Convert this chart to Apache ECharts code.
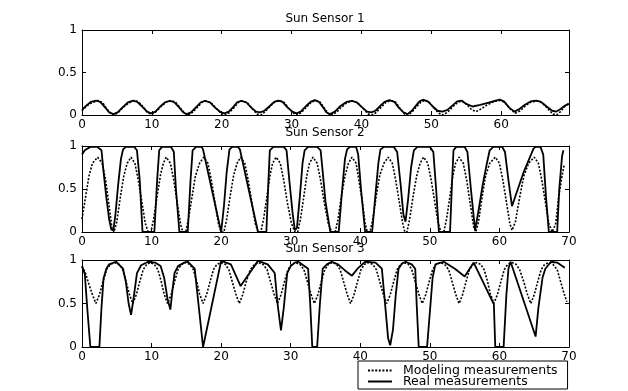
<!DOCTYPE html>
<html>
<head>
<meta charset="utf-8">
<script src="https://cdn.jsdelivr.net/npm/echarts@6/dist/echarts.min.js"></script>
<style>html,body{margin:0;padding:0;background:#fff;}#c{width:628px;height:391px;}</style>
</head>
<body>
<div id="c"></div>
<script>
// ---- data ----
const titles = ['Sun Sensor 1', 'Sun Sensor 2', 'Sun Sensor 3'];
const seriesNames = ['Modeling measurements', 'Real measurements'];
const yTicks = [0, 0.5, 1];
const xMax = [69.7, 70, 70];

const s1Model = [[0,0.05],[0.6,0.1],[1.3,0.14],[2.3,0.17],[2.9,0.15],[3.5,0.08],[4.1,0.02],[4.6,0],[5.2,0.03],[5.9,0.09],[6.7,0.14],[7.5,0.17],[8.1,0.155],[8.8,0.09],[9.5,0.02],[10.0,0.01],[10.6,0.04],[11.3,0.1],[12.1,0.155],[12.8,0.17],[13.4,0.15],[14.1,0.08],[14.7,0.02],[15.2,0],[15.8,0.03],[16.5,0.09],[17.2,0.15],[17.8,0.165],[18.5,0.14],[19.2,0.08],[19.9,0.02],[20.5,0],[21.1,0.03],[21.8,0.09],[22.4,0.15],[23.0,0.165],[23.7,0.14],[24.4,0.07],[25.1,0.01],[25.6,0],[26.2,0.04],[26.9,0.1],[27.6,0.155],[28.3,0.17],[28.9,0.15],[29.6,0.08],[30.3,0.02],[30.8,0],[31.4,0.03],[32.1,0.09],[32.8,0.15],[33.5,0.17],[34.1,0.15],[34.7,0.08],[35.2,0.02],[35.7,0],[36.4,0.03],[37.1,0.09],[38.0,0.15],[38.8,0.165],[39.5,0.14],[40.3,0.07],[41.0,0.01],[41.5,0],[42.1,0.03],[42.8,0.09],[43.5,0.15],[44.2,0.17],[44.9,0.15],[45.5,0.08],[46.2,0.01],[46.7,0],[47.3,0.04],[47.9,0.1],[48.5,0.15],[49.0,0.17],[49.7,0.15],[50.4,0.08],[51.1,0.02],[51.7,0],[52.4,0.04],[53.1,0.1],[53.8,0.15],[54.4,0.165],[55.1,0.12],[55.8,0.06],[56.4,0.04],[57.1,0.07],[58.0,0.12],[59.0,0.16],[59.9,0.17],[60.5,0.15],[61.3,0.07],[62.0,0.02],[62.7,0.05],[63.5,0.11],[64.3,0.155],[65.2,0.165],[65.9,0.14],[66.7,0.07],[67.4,0.01],[67.9,0],[68.5,0.04],[69.1,0.1],[69.7,0.14]];

const s1Real = [[0,0.06],[0.6,0.11],[1.3,0.155],[2.0,0.17],[2.6,0.155],[3.3,0.09],[3.9,0.03],[4.5,0.01],[5.1,0.03],[5.8,0.09],[6.6,0.15],[7.3,0.17],[7.9,0.155],[8.6,0.1],[9.3,0.04],[9.9,0.02],[10.5,0.04],[11.2,0.1],[11.9,0.15],[12.6,0.165],[13.2,0.15],[13.9,0.09],[14.5,0.03],[15.0,0.01],[15.6,0.03],[16.3,0.09],[17.0,0.15],[17.6,0.165],[18.3,0.15],[19.0,0.09],[19.8,0.035],[20.4,0.02],[21.0,0.04],[21.6,0.09],[22.2,0.15],[22.8,0.165],[23.5,0.15],[24.2,0.09],[24.9,0.04],[25.5,0.03],[26.1,0.05],[26.8,0.1],[27.5,0.155],[28.1,0.17],[28.7,0.155],[29.4,0.09],[30.1,0.04],[30.7,0.02],[31.3,0.04],[32.0,0.1],[32.7,0.155],[33.3,0.175],[33.9,0.155],[34.5,0.09],[35.0,0.03],[35.5,0.01],[36.2,0.04],[36.9,0.1],[37.9,0.155],[38.6,0.165],[39.3,0.15],[40.1,0.09],[40.8,0.04],[41.4,0.03],[42.0,0.05],[42.6,0.1],[43.3,0.155],[44.0,0.175],[44.7,0.155],[45.3,0.09],[46.0,0.03],[46.6,0.01],[47.2,0.05],[47.8,0.11],[48.3,0.16],[48.8,0.18],[49.5,0.16],[50.2,0.1],[50.9,0.05],[51.6,0.04],[52.3,0.06],[53.0,0.11],[53.7,0.16],[54.3,0.17],[55.0,0.13],[55.9,0.1],[57.0,0.12],[58.2,0.145],[59.2,0.17],[59.8,0.18],[60.4,0.16],[61.1,0.09],[61.9,0.04],[62.6,0.07],[63.4,0.12],[64.2,0.16],[65.0,0.17],[65.7,0.155],[66.5,0.1],[67.3,0.05],[67.9,0.04],[68.5,0.07],[69.1,0.11],[69.7,0.13]];

const s2Model = [[0,0.15],[0.5,0.4],[1.0,0.65],[1.5,0.8],[2.25,0.87],[2.9,0.8],[3.4,0.6],[3.9,0.3],[4.3,0.05],[4.6,0],[5.0,0.12],[5.5,0.4],[6.0,0.65],[6.5,0.8],[7.05,0.87],[7.6,0.8],[8.1,0.6],[8.6,0.35],[9.1,0.1],[9.5,0],[9.9,0],[10.3,0.15],[10.8,0.42],[11.3,0.67],[11.7,0.8],[12.1,0.87],[12.7,0.8],[13.2,0.6],[13.7,0.33],[14.2,0.08],[14.5,0],[14.9,0],[15.3,0.15],[15.8,0.4],[16.3,0.65],[16.9,0.8],[17.5,0.87],[18.1,0.8],[18.6,0.6],[19.1,0.35],[19.6,0.1],[20.0,0],[20.4,0],[20.8,0.15],[21.3,0.42],[21.8,0.66],[22.3,0.8],[22.8,0.87],[23.4,0.8],[23.9,0.6],[24.4,0.35],[24.9,0.1],[25.3,0],[25.7,0],[26.1,0.15],[26.6,0.42],[27.0,0.65],[27.4,0.8],[27.9,0.87],[28.5,0.8],[29.0,0.6],[29.5,0.35],[30.1,0.1],[30.6,0],[31.0,0],[31.4,0.15],[31.9,0.42],[32.3,0.65],[32.7,0.8],[33.2,0.87],[33.8,0.8],[34.3,0.6],[34.8,0.35],[35.4,0.1],[35.9,0],[36.4,0],[36.8,0.15],[37.3,0.42],[37.8,0.65],[38.3,0.8],[38.8,0.87],[39.4,0.8],[39.8,0.6],[40.3,0.35],[40.7,0.1],[41.0,0],[41.4,0],[41.8,0.15],[42.3,0.42],[42.8,0.66],[43.4,0.8],[44.0,0.87],[44.6,0.8],[45.1,0.6],[45.6,0.35],[46.1,0.1],[46.4,0],[46.7,0],[47.1,0.15],[47.6,0.42],[48.1,0.65],[48.6,0.8],[49.1,0.87],[49.7,0.8],[50.2,0.6],[50.7,0.35],[51.2,0.1],[51.6,0],[52.0,0],[52.4,0.15],[52.9,0.42],[53.3,0.65],[53.7,0.8],[54.2,0.87],[54.8,0.8],[55.3,0.6],[55.8,0.33],[56.3,0.06],[56.6,0],[57.0,0.12],[57.5,0.4],[58.0,0.65],[58.6,0.8],[59.4,0.87],[60.0,0.8],[60.5,0.6],[61.0,0.35],[61.5,0.1],[61.8,0.02],[62.3,0.12],[62.9,0.4],[63.5,0.65],[64.2,0.8],[65.0,0.87],[65.6,0.8],[66.1,0.6],[66.6,0.35],[67.1,0.1],[67.6,0],[68.1,0.1],[68.5,0.4],[69.0,0.65],[69.3,0.78]];

const s2Real = [[0,0.9],[0.4,0.95],[1.2,0.99],[2.2,0.99],[2.8,0.95],[3.1,0.7],[3.5,0.4],[3.9,0.15],[4.2,0.03],[4.5,0.02],[4.8,0.2],[5.2,0.55],[5.6,0.85],[5.9,0.96],[6.3,0.99],[7.5,0.99],[7.9,0.95],[8.3,0.6],[8.7,0],[10.4,0],[10.8,0.6],[11.1,0.95],[11.5,0.99],[12.8,0.99],[13.2,0.93],[13.5,0.5],[14.0,0],[15.2,0],[15.6,0.6],[15.9,0.95],[16.4,0.99],[17.2,0.99],[17.4,0.96],[20.0,0],[20.4,0.3],[20.8,0.7],[21.2,0.96],[21.6,0.99],[22.4,0.99],[22.7,0.96],[25.3,0],[26.5,0],[26.8,0.6],[27.0,0.95],[27.5,0.99],[29.0,0.99],[29.4,0.95],[29.8,0.6],[30.3,0.2],[30.6,0.02],[30.9,0.05],[31.3,0.4],[31.7,0.8],[32.0,0.95],[32.5,0.99],[33.8,0.99],[34.3,0.95],[34.6,0.7],[35.0,0.35],[35.7,0],[36.9,0],[37.4,0.5],[37.8,0.85],[38.1,0.96],[38.5,0.99],[39.4,0.99],[39.7,0.9],[40.1,0.5],[40.7,0],[41.7,0],[42.2,0.45],[42.6,0.8],[42.9,0.96],[43.4,0.99],[44.8,0.99],[45.3,0.93],[45.8,0.55],[46.2,0.2],[46.5,0.12],[46.9,0.4],[47.3,0.75],[47.7,0.95],[48.2,0.99],[50.0,0.99],[50.5,0.93],[50.9,0.5],[51.3,0],[52.9,0],[53.2,0.6],[53.4,0.95],[53.8,0.99],[55.0,0.99],[55.4,0.93],[55.9,0.5],[56.5,0.02],[57.0,0.25],[57.6,0.55],[58.2,0.8],[58.6,0.95],[59.1,0.99],[60.4,0.99],[60.8,0.93],[61.3,0.6],[61.8,0.3],[63.5,0.7],[64.9,0.97],[65.2,0.99],[65.9,0.99],[66.3,0.9],[66.7,0.4],[67.1,0],[68.3,0],[68.6,0.5],[69.0,0.88],[69.2,0.95]];

const s3Model = [[0,0.93],[0.5,0.85],[1.0,0.72],[1.5,0.6],[2.0,0.5],[2.5,0.6],[3.0,0.75],[3.6,0.9],[4.1,0.95],[4.7,0.97],[5.3,0.95],[5.8,0.9],[6.3,0.76],[6.8,0.61],[7.3,0.5],[7.8,0.6],[8.3,0.75],[8.8,0.89],[9.3,0.95],[9.8,0.97],[10.4,0.95],[10.9,0.89],[11.4,0.75],[11.8,0.61],[12.3,0.5],[12.8,0.6],[13.3,0.75],[13.8,0.89],[14.3,0.95],[14.9,0.97],[15.5,0.95],[16.0,0.89],[16.5,0.75],[16.9,0.61],[17.4,0.5],[17.9,0.6],[18.4,0.75],[18.9,0.89],[19.4,0.95],[20.0,0.97],[20.6,0.95],[21.1,0.89],[21.6,0.75],[22.1,0.61],[22.6,0.5],[23.1,0.6],[23.6,0.75],[24.2,0.89],[24.8,0.95],[25.4,0.97],[26.0,0.95],[26.6,0.89],[27.1,0.75],[27.6,0.61],[28.1,0.5],[28.6,0.6],[29.1,0.75],[29.6,0.89],[30.1,0.95],[30.7,0.97],[31.3,0.95],[31.9,0.89],[32.4,0.75],[32.9,0.61],[33.4,0.5],[33.9,0.6],[34.4,0.75],[34.9,0.89],[35.4,0.95],[36.0,0.97],[36.6,0.95],[37.1,0.89],[37.6,0.75],[38.1,0.61],[38.6,0.5],[39.1,0.6],[39.6,0.75],[40.1,0.89],[40.6,0.95],[41.2,0.97],[41.8,0.95],[42.3,0.89],[42.8,0.75],[43.3,0.61],[43.8,0.5],[44.3,0.6],[44.8,0.75],[45.3,0.89],[45.8,0.95],[46.3,0.97],[46.9,0.95],[47.4,0.89],[47.9,0.75],[48.4,0.61],[48.9,0.5],[49.4,0.6],[49.9,0.75],[50.4,0.89],[50.9,0.95],[51.5,0.97],[52.1,0.95],[52.7,0.89],[53.2,0.75],[53.7,0.61],[54.2,0.5],[54.7,0.6],[55.2,0.75],[55.7,0.89],[56.2,0.95],[56.7,0.97],[57.3,0.95],[57.8,0.89],[58.3,0.75],[58.7,0.61],[59.2,0.5],[59.7,0.6],[60.2,0.75],[60.7,0.89],[61.2,0.95],[61.8,0.97],[62.4,0.95],[62.9,0.89],[63.5,0.75],[64.0,0.61],[64.5,0.5],[65.0,0.6],[65.5,0.75],[66.0,0.89],[66.5,0.95],[67.1,0.97],[67.7,0.95],[68.3,0.89],[68.8,0.75],[69.3,0.61],[69.7,0.52]];

const s3Real = [[0,0.93],[0.4,0.84],[0.8,0.4],[1.2,0],[2.5,0],[2.8,0.45],[3.1,0.79],[3.5,0.9],[3.9,0.95],[4.9,0.98],[5.9,0.9],[6.3,0.75],[6.7,0.5],[7.05,0.37],[7.4,0.55],[7.9,0.85],[8.5,0.94],[9.5,0.98],[10.5,0.97],[11.3,0.93],[11.8,0.8],[12.3,0.55],[12.7,0.43],[13.0,0.65],[13.3,0.85],[13.8,0.93],[14.7,0.97],[15.2,0.98],[16.2,0.9],[17.4,0],[20.0,0.99],[21.4,0.95],[22.8,0.7],[25.3,0.99],[26.7,0.95],[27.7,0.85],[28.1,0.5],[28.6,0.19],[29.0,0.45],[29.5,0.85],[30.0,0.93],[30.6,0.97],[31.1,0.98],[32.5,0.9],[32.8,0.5],[33.1,0],[33.8,0],[34.2,0.5],[34.6,0.9],[35.2,0.95],[35.9,0.98],[36.8,0.95],[37.8,0.88],[38.8,0.82],[39.6,0.9],[40.7,0.98],[42.2,0.97],[43.1,0.9],[43.5,0.55],[44.0,0.1],[44.3,0.02],[44.7,0.2],[45.1,0.6],[45.5,0.9],[46.0,0.96],[46.5,0.98],[47.4,0.95],[47.9,0.9],[48.1,0.5],[48.4,0],[49.6,0],[50.1,0.5],[50.4,0.8],[50.8,0.95],[52.0,0.98],[53.6,0.9],[55.0,0.81],[56.3,0.97],[59.2,0.49],[59.4,0],[60.6,0],[61.0,0.6],[61.3,0.9],[61.6,0.98],[65.2,0.12],[65.6,0.45],[66.2,0.8],[66.6,0.9],[67.4,0.98],[68.3,0.97],[69.4,0.91]];

const modelData = [s1Model, s2Model, s3Model];
const realData = [s1Real, s2Real, s3Real];

// ---- layout ----
const FONT = 'DejaVu Sans';
const grids = [
  {left: 82, top: 30, width: 487, height: 85},
  {left: 82, top: 146, width: 487, height: 86},
  {left: 82, top: 260, width: 487, height: 87}
];
const titleTops = [13, 127, 243];

const txt = {color: '#000', fontFamily: FONT, fontSize: 12};
const xAxes = [], yAxes = [], series = [];
grids.forEach((g, i) => {
  const tick = {show: true, inside: true, length: 4, lineStyle: {color: '#000', width: 1}};
  const line = {show: true, onZero: false, lineStyle: {color: '#000', width: 1}};
  xAxes.push({
    type: 'value', gridIndex: i, min: 0, max: xMax[i], interval: 10, position: 'bottom',
    axisLine: line, axisTick: tick, splitLine: {show: false},
    axisLabel: Object.assign({margin: 4, showMaxLabel: i > 0,
      formatter: v => (Math.abs(v % 10) < 1e-9 ? String(v) : '')}, txt)
  });
  xAxes.push({
    type: 'value', gridIndex: i, min: 0, max: xMax[i], interval: 10, position: 'top',
    axisLine: line, axisTick: tick, splitLine: {show: false}, axisLabel: {show: false}
  });
  yAxes.push({
    type: 'value', gridIndex: i, min: yTicks[0], max: yTicks[yTicks.length - 1], interval: 0.5, position: 'left',
    axisLine: line, axisTick: tick, splitLine: {show: false},
    axisLabel: Object.assign({margin: 5}, txt)
  });
  yAxes.push({
    type: 'value', gridIndex: i, min: yTicks[0], max: yTicks[yTicks.length - 1], interval: 0.5, position: 'right',
    axisLine: line, axisTick: tick, splitLine: {show: false}, axisLabel: {show: false}
  });
  series.push({
    name: seriesNames[0], type: 'line', xAxisIndex: 2 * i, yAxisIndex: 2 * i,
    data: modelData[i], symbol: 'none', showSymbol: false,
    lineStyle: {color: '#000', width: 1.6, type: [2, 1.6]}, itemStyle: {color: '#000'}
  });
  series.push({
    name: seriesNames[1], type: 'line', xAxisIndex: 2 * i, yAxisIndex: 2 * i,
    data: realData[i], symbol: 'none', showSymbol: false,
    lineStyle: {color: '#000', width: 1.8, type: 'solid'}, itemStyle: {color: '#000'}
  });
});

const chart = echarts.init(document.getElementById('c'), null, {renderer: 'canvas'});
chart.setOption({
  animation: false,
  backgroundColor: '#fff',
  title: titles.map((t, i) => ({
    text: t, left: 325, top: titleTops[i], textAlign: 'center', padding: 0,
    textStyle: {color: '#000', fontFamily: FONT, fontSize: 12, fontWeight: 'normal'}
  })),
  grid: grids,
  xAxis: xAxes,
  yAxis: yAxes,
  legend: {
    data: seriesNames, orient: 'vertical', left: 358, top: 361, height: 60,
    itemWidth: 24, itemHeight: 11, itemGap: -2,
    padding: [3, 10, 1, 9],
    borderColor: '#000', borderWidth: 1, backgroundColor: '#fff',
    itemStyle: {opacity: 0, borderWidth: 0},
    textStyle: {color: '#000', fontFamily: FONT, fontSize: 12.5, lineHeight: 11, padding: [0, 0, 0, 6]},
    selectedMode: false
  },
  series: series
});
</script>
</body>
</html>
